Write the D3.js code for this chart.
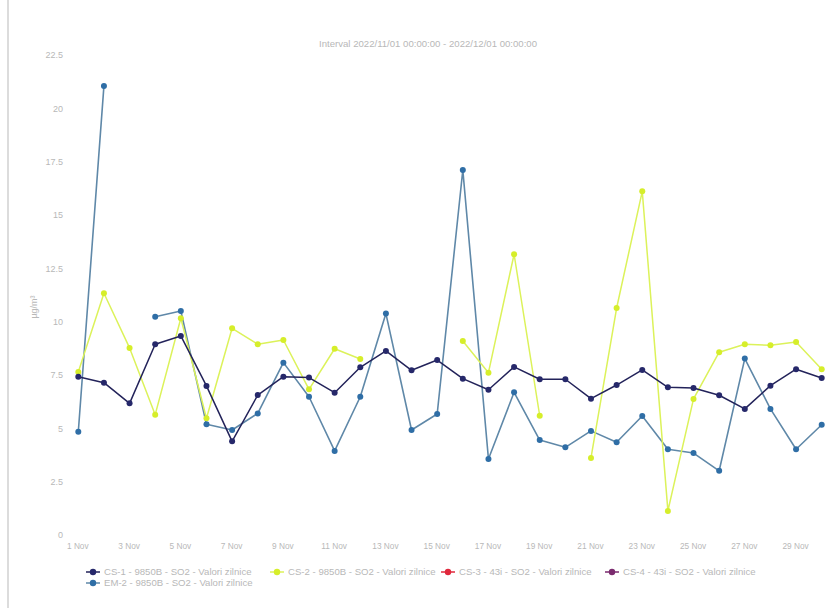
<!DOCTYPE html>
<html>
<head>
<meta charset="utf-8">
<script src="https://cdn.jsdelivr.net/npm/d3@7"></script>
<style>
  html, body { margin: 0; padding: 0; background: #ffffff; }
  svg { display: block; font-family: "Liberation Sans", "DejaVu Sans", sans-serif; }
</style>
</head>
<body>
<svg id="chart" width="840" height="608"></svg>
<script>
// ---- data ----
const days = d3.range(1, 31); // 1..30 Nov 2022
const cs1 = [7.42, 7.14, 6.17, 8.94, 9.33, 6.99, 4.39, 6.56, 7.42, 7.38,
             6.67, 7.86, 8.63, 7.72, 8.20, 7.33, 6.81, 7.88, 7.30, 7.30,
             6.39, 7.03, 7.74, 6.92, 6.89, 6.55, 5.91, 7.00, 7.77, 7.36];
const cs2 = [7.64, 11.33, 8.77, 5.64, 10.16, 5.47, 9.69, 8.94, 9.14, 6.83,
             8.73, 8.25, null, null, null, 9.09, 7.61, 13.16, 5.59, null,
             3.61, 10.64, 16.11, 1.13, 6.38, 8.57, 8.94, 8.89, 9.05, 7.77];
const cs3 = [];
const cs4 = [];
const em2 = [4.84, 21.05, null, 10.23, 10.50, 5.19, 4.92, 5.70, 8.08, 6.48,
             3.94, 6.48, 10.38, 4.92, 5.67, 17.11, 3.56, 6.69, 4.45, 4.11,
             4.88, 4.35, 5.58, 4.02, 3.84, 3.01, 8.27, 5.91, 4.02, 5.17];
const yTicks = [0, 2.5, 5, 7.5, 10, 12.5, 15, 17.5, 20, 22.5];
const seriesNames = [
  "CS-1 - 9850B - SO2 - Valori zilnice",
  "CS-2 - 9850B - SO2 - Valori zilnice",
  "CS-3 - 43i - SO2 - Valori zilnice",
  "CS-4 - 43i - SO2 - Valori zilnice",
  "EM-2 - 9850B - SO2 - Valori zilnice"
];
const titleText = "Interval 2022/11/01 00:00:00 - 2022/12/01 00:00:00";
const yLabel = "µg/m³";

// ---- styles ----
const lineColors = ["#23235a", "#dcf25a", "#e0283c", "#7a2a6e", "#5f88a8"];
const dotColors  = ["#26286a", "#d6ee2a", "#e0283c", "#7a2a6e", "#2f6ea6"];
const textColor = "#b8b8b8";

const svg = d3.select("#chart");

// faint scan edge on the left
svg.append("line").attr("x1", 8).attr("x2", 8).attr("y1", 0).attr("y2", 608)
  .attr("stroke", "#d0d0d0").attr("stroke-width", 1.5);

const x = d3.scaleTime()
  .domain([new Date(2022, 10, 1), new Date(2022, 10, 30)])
  .range([78.3, 821.7]);
const y = d3.scaleLinear().domain([0, 22.5]).range([535, 55]);

// title
svg.append("text").attr("x", 428).attr("y", 47).attr("text-anchor", "middle")
  .attr("font-size", 9.6).attr("fill", textColor).text(titleText);

// y axis
const yAxis = d3.axisLeft(y).tickValues(yTicks).tickSize(0).tickPadding(0)
  .tickFormat(d => String(d));
const gy = svg.append("g").attr("transform", "translate(63,0)").call(yAxis);
gy.select(".domain").remove();
gy.selectAll("text").attr("font-size", 9).attr("fill", textColor)
  .attr("font-family", "Liberation Sans, DejaVu Sans, sans-serif");

svg.append("text").attr("transform", "translate(37,307) rotate(-90)")
  .attr("text-anchor", "middle").attr("font-size", 9).attr("fill", textColor)
  .text(yLabel);

// x axis
const xAxis = d3.axisBottom(x).ticks(d3.timeDay.every(2)).tickSize(0).tickPadding(0)
  .tickFormat(d3.timeFormat("%-d Nov"));
const gx = svg.append("g").attr("transform", "translate(-1,543)").call(xAxis);
gx.select(".domain").remove();
gx.selectAll("text").attr("font-size", 8.3).attr("fill", textColor)
  .attr("font-family", "Liberation Sans, DejaVu Sans, sans-serif");

// series
const allSeries = [cs1, cs2, cs3, cs4, em2];
const drawOrder = [4, 1, 0]; // EM-2 under, then CS-2, CS-1 on top
const line = d3.line()
  .defined(d => d.v !== null)
  .x(d => x(d.date))
  .y(d => y(d.v));

drawOrder.forEach(i => {
  const pts = allSeries[i].map((v, k) => ({ date: new Date(2022, 10, days[k]), v }));
  svg.append("path").datum(pts)
    .attr("fill", "none").attr("stroke", lineColors[i])
    .attr("stroke-width", i === 4 ? 1.6 : 1.5)
    .attr("stroke-linejoin", "round")
    .attr("d", line);
});
drawOrder.forEach(i => {
  const pts = allSeries[i].map((v, k) => ({ date: new Date(2022, 10, days[k]), v }))
    .filter(d => d.v !== null);
  svg.append("g").selectAll("circle").data(pts).join("circle")
    .attr("cx", d => x(d.date)).attr("cy", d => y(d.v)).attr("r", 3)
    .attr("fill", dotColors[i]);
});

// legend
const legendPos = [[86, 572], [270, 572], [441, 572], [605, 572], [86, 583]];
legendPos.forEach(([lx, ly], i) => {
  const g = svg.append("g").attr("transform", `translate(${lx},${ly})`);
  g.append("line").attr("x1", 0).attr("x2", 14).attr("y1", 0).attr("y2", 0)
    .attr("stroke", lineColors[i]).attr("stroke-width", 1.5);
  g.append("circle").attr("cx", 7).attr("cy", 0).attr("r", 3.2).attr("fill", dotColors[i]);
  g.append("text").attr("x", 18).attr("y", 3.2).attr("font-size", 9.6)
    .attr("fill", textColor).text(seriesNames[i]);
});
</script>
</body>
</html>
